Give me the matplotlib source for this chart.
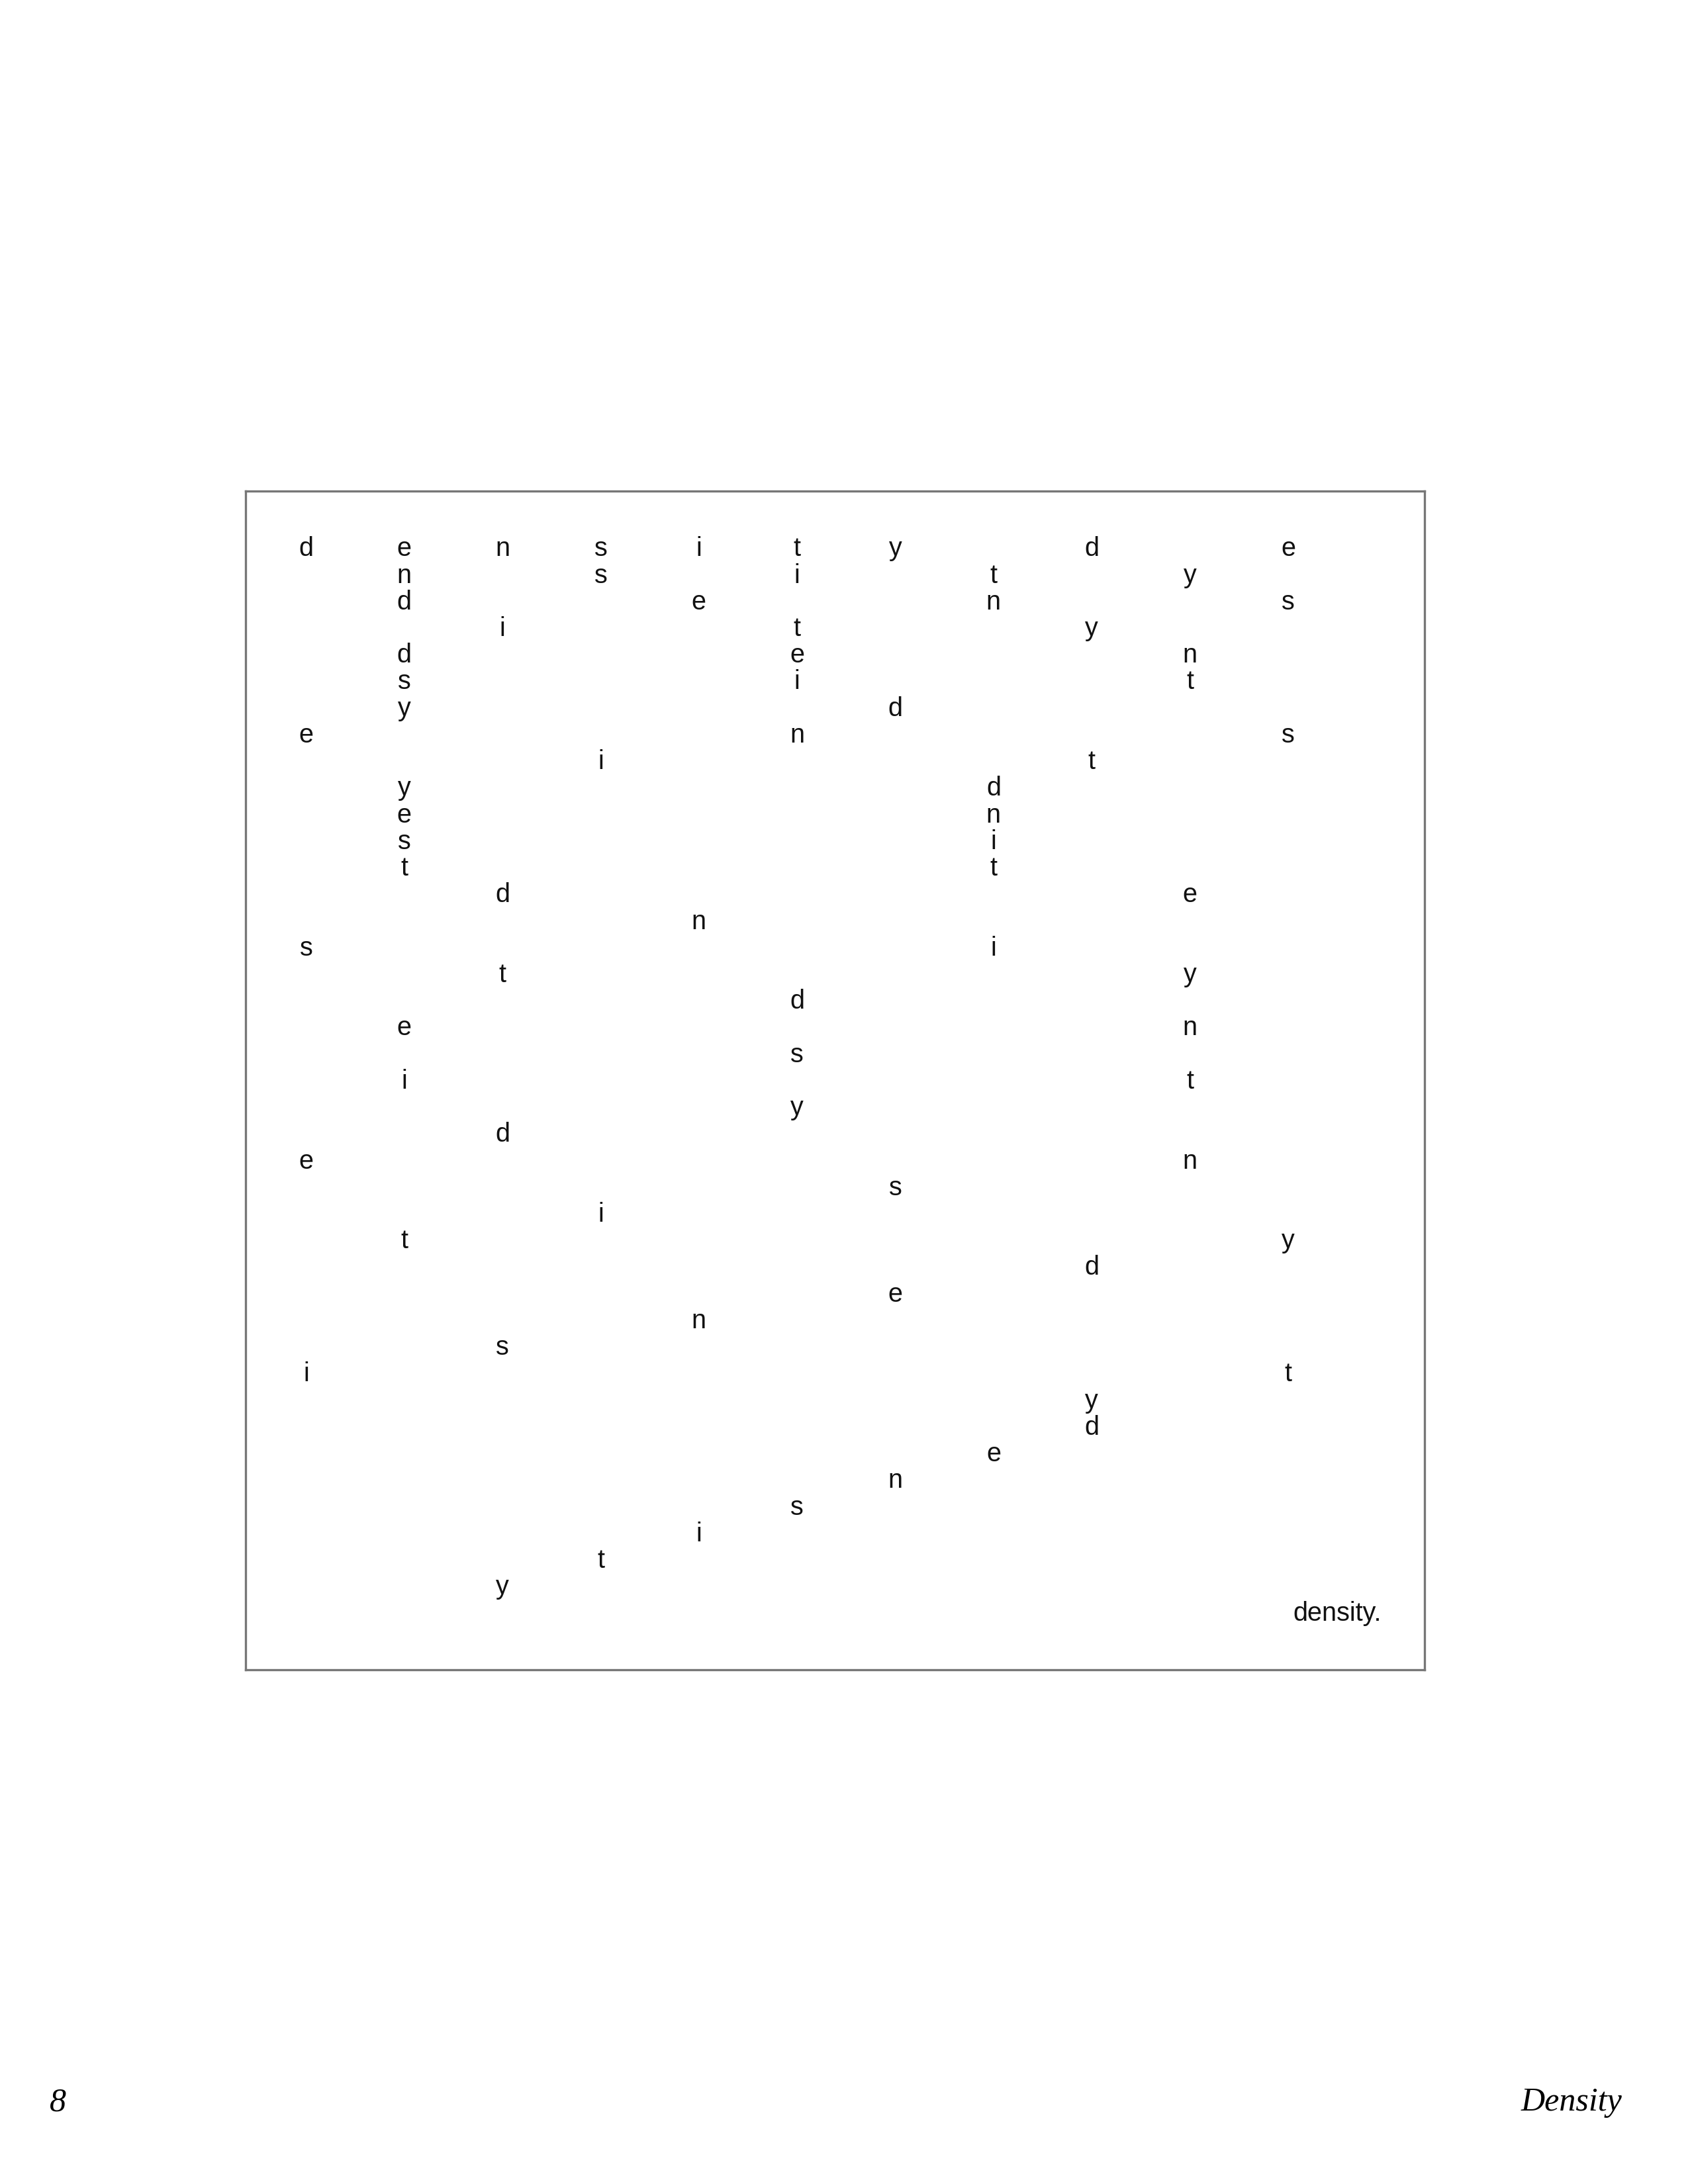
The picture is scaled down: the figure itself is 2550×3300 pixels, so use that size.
import matplotlib
matplotlib.use("Agg")
import matplotlib.pyplot as plt

# (row, col, letter)
cells = [
(0,0,'d'),(0,1,'e'),(0,2,'n'),(0,3,'s'),(0,4,'i'),(0,5,'t'),(0,6,'y'),(0,8,'d'),(0,10,'e'),
(1,1,'n'),(1,3,'s'),(1,5,'i'),(1,7,'t'),(1,9,'y'),
(2,1,'d'),(2,4,'e'),(2,7,'n'),(2,10,'s'),
(3,2,'i'),(3,5,'t'),(3,8,'y'),
(4,1,'d'),(4,5,'e'),(4,9,'n'),
(5,1,'s'),(5,5,'i'),(5,9,'t'),
(6,1,'y'),(6,6,'d'),
(7,0,'e'),(7,5,'n'),(7,10,'s'),
(8,3,'i'),(8,8,'t'),
(9,1,'y'),(9,7,'d'),
(10,1,'e'),(10,7,'n'),
(11,1,'s'),(11,7,'i'),
(12,1,'t'),(12,7,'t'),
(13,2,'d'),(13,9,'e'),
(14,4,'n'),
(15,0,'s'),(15,7,'i'),
(16,2,'t'),(16,9,'y'),
(17,5,'d'),
(18,1,'e'),(18,9,'n'),
(19,5,'s'),
(20,1,'i'),(20,9,'t'),
(21,5,'y'),
(22,2,'d'),
(23,0,'e'),(23,9,'n'),
(24,6,'s'),
(25,3,'i'),
(26,1,'t'),(26,10,'y'),
(27,8,'d'),
(28,6,'e'),
(29,4,'n'),
(30,2,'s'),
(31,0,'i'),(31,10,'t'),
(32,8,'y'),
(33,8,'d'),
(34,7,'e'),
(35,6,'n'),
(36,5,'s'),
(37,4,'i'),
(38,3,'t'),
(39,2,'y'),
]
rows = [c[0] for c in cells]
cols = [c[1] for c in cells]
chars = [c[2] for c in cells]
final_word = "density."
page_number = "8"
running_title = "Density"

fig = plt.figure(figsize=(8.5, 11), dpi=300)
ax = fig.add_axes([178/1224, 1-1211/1584, (1033-178)/1224, (1211-356)/1584])
ax.set_xlim(-0.618, 11.39)
ax.set_ylim(42.1, -2.18)
ax.set_xticks([]); ax.set_yticks([])
for s in ax.spines.values():
    s.set_color('#777777'); s.set_linewidth(0.8)
for r, c, ch in zip(rows, cols, chars):
    ax.text(c, r, ch, ha='center', va='center', fontsize=9.5, family='Liberation Sans', color='#111111')
ax.text(10.95, 40, final_word, ha='right', va='center', fontsize=9.5, family='Liberation Sans', color='#111111')

fig.text(42/1224, 1-1525/1584, page_number, ha='center', va='center', fontsize=12, family='Liberation Serif', style='italic')
fig.text(1176/1224, 1-1525/1584, running_title, ha='right', va='center', fontsize=12, family='Liberation Serif', style='italic')
fig.savefig("out.png", dpi=300, facecolor='white')
